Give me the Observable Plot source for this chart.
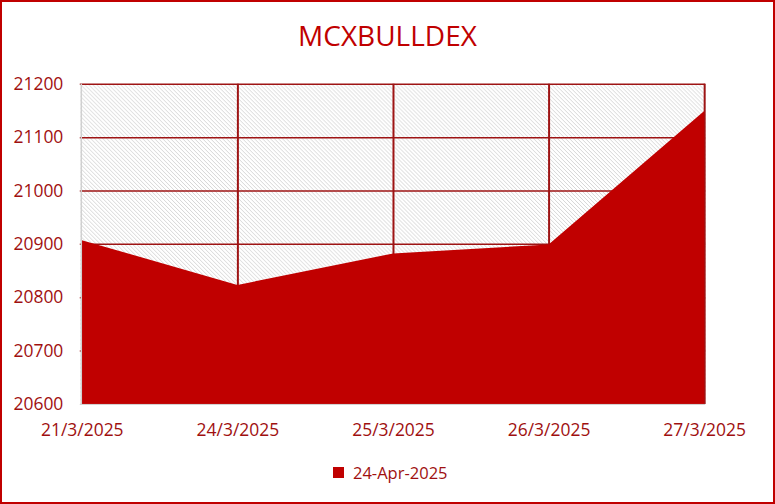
<!DOCTYPE html>
<html>
<head>
<meta charset="utf-8">
<script src="https://cdn.jsdelivr.net/npm/d3@7"></script>
<script src="https://cdn.jsdelivr.net/npm/@observablehq/plot@0.6"></script>
<style>
  html, body { margin: 0; padding: 0; background: #fff; }
  #wrap { position: relative; width: 775px; height: 504px; box-sizing: border-box; border: 2px solid #C00000; overflow: hidden; font-family: "Open Sans", "Liberation Sans", sans-serif; }
  #title { position: absolute; left: 0; width: 771px; top: 14px; text-align: center; font-size: 28px; color: #C00000; font-family: "Open Sans", sans-serif; }
  #plot { position: absolute; left: -2px; top: -2px; }
  #legend { position: absolute; left: 331px; top: 459px; font-size: 16.5px; color: #A01010; display: flex; align-items: center; }
  #legend .sw { width: 11px; height: 11px; background: #C00000; margin-right: 9px; }
</style>
</head>
<body>
<div id="wrap">
  <div id="plot"></div>
  <div id="title">MCXBULLDEX</div>
  <div id="legend"><span class="sw"></span><span>24-Apr-2025</span></div>
</div>
<script>
const dates = ["21/3/2025", "24/3/2025", "25/3/2025", "26/3/2025", "27/3/2025"];
const values = [20907, 20823, 20882, 20899, 21149];
const yTicks = [20600, 20700, 20800, 20900, 21000, 21100, 21200];
const seriesName = "24-Apr-2025";

const data = dates.map((d, i) => ({date: d, value: values[i]}));

const gridColor = "#9E1414";
const textColor = "#A01010";

const chart = Plot.plot({
  width: 775,
  height: 504,
  marginLeft: 80,
  marginRight: 68,
  marginTop: 84,
  marginBottom: 99,
  style: {fontFamily: "'Open Sans', 'Liberation Sans', sans-serif", fontSize: "17.5px", color: textColor, background: "transparent", overflow: "visible"},
  x: {type: "point", domain: dates, padding: 0, label: null},
  y: {domain: [20600, 21200], ticks: yTicks, label: null},
  marks: [
    Plot.frame({fill: "url(#hatch)", stroke: null}),
    Plot.ruleY(yTicks.slice(1), {stroke: gridColor, strokeWidth: 1.5}),
    Plot.ruleX(dates.slice(1), {stroke: gridColor, strokeWidth: 2}),
    Plot.areaY(data, {x: "date", y1: 20600, y2: "value", fill: "#C00000", curve: "linear"}),
    Plot.ruleX([dates[0]], {stroke: "#D0D0D0", strokeWidth: 1.5, dx: -1}),
    Plot.ruleY([20600], {stroke: "#D0D0D0", strokeWidth: 1}),
    Plot.axisY({ticks: yTicks, tickSize: 0, tickPadding: 17, tickFormat: d => String(d), fill: textColor, fontSize: 17.5}),
    Plot.axisX({tickSize: 0, tickPadding: 19, fill: textColor, fontSize: 17.5})
  ]
});

d3.select(chart).insert("defs", ":first-child").html(
  '<pattern id="hatch" patternUnits="userSpaceOnUse" width="4" height="4">' +
  '<rect width="4" height="4" fill="#ffffff"/>' +
  '<path d="M-1,-1 L5,5 M-1,3 L1,5 M3,-1 L5,1" stroke="#D6D6D6" stroke-width="1"/>' +
  '</pattern>'
);

document.getElementById("plot").appendChild(chart);
</script>
</body>
</html>
